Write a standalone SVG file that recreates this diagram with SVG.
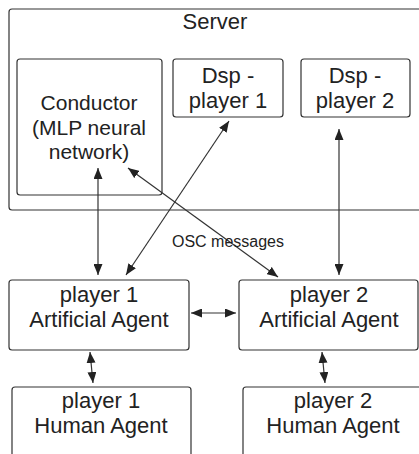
<svg xmlns="http://www.w3.org/2000/svg" width="419" height="454" viewBox="0 0 419 454">
<style>
.box{fill:#fff;stroke:#333;stroke-width:1.2}
.t{font-family:"Liberation Sans",Arial,sans-serif;font-size:22px;fill:#222;text-anchor:middle}
.tc{font-size:21px}
.s{font-family:"Liberation Sans",Arial,sans-serif;font-size:16px;fill:#222;text-anchor:middle}
.c{stroke:#333;stroke-width:1.2;fill:none;marker-start:url(#ah);marker-end:url(#ah)}
</style>
<defs>
<marker id="ah" viewBox="0 0 11 9" refX="11" refY="4.5" markerWidth="11" markerHeight="9" markerUnits="userSpaceOnUse" orient="auto-start-reverse">
<path d="M0,0 L11,4.5 L0,9 Z" fill="#222"/>
</marker>
</defs>
<rect width="419" height="454" fill="#fff"/>
<g id="server">
<rect class="box" x="9" y="9" width="420" height="201" rx="3"/>
<text class="t" x="215" y="29">Server</text>
</g>
<g id="conductor">
<rect class="box" x="17" y="59" width="145" height="136" rx="3"/>
<text class="t tc" x="89" y="110">Conductor</text>
<text class="t tc" x="89" y="134.5">(MLP neural</text>
<text class="t tc" x="89" y="159">network)</text>
</g>
<g id="dsp1">
<rect class="box" x="173" y="59" width="110" height="58" rx="3"/>
<text class="t" x="228" y="83">Dsp -</text>
<text class="t" x="228" y="108">player 1</text>
</g>
<g id="dsp2">
<rect class="box" x="301" y="59" width="109" height="58" rx="3"/>
<text class="t" x="355" y="83">Dsp -</text>
<text class="t" x="355" y="108">player 2</text>
</g>
<g id="aa1">
<rect class="box" x="9" y="280" width="180" height="70" rx="3"/>
<text class="t" x="99" y="302">player 1</text>
<text class="t" x="99" y="327">Artificial Agent</text>
</g>
<g id="aa2">
<rect class="box" x="239" y="280" width="179" height="70" rx="3"/>
<text class="t" x="329" y="302">player 2</text>
<text class="t" x="329" y="327">Artificial Agent</text>
</g>
<g id="ha1">
<rect class="box" x="12" y="387" width="179" height="80" rx="3"/>
<text class="t" x="101" y="408">player 1</text>
<text class="t" x="101" y="433">Human Agent</text>
</g>
<g id="ha2">
<rect class="box" x="243" y="387" width="180" height="80" rx="3"/>
<text class="t" x="333" y="408">player 2</text>
<text class="t" x="333" y="433">Human Agent</text>
</g>
<g id="connectors">
<line class="c" x1="98" y1="168" x2="98" y2="275"/>
<line class="c" x1="229" y1="121" x2="126" y2="275"/>
<line class="c" x1="339" y1="129" x2="339" y2="275"/>
<line class="c" x1="128" y1="168" x2="278" y2="277"/>
<line class="c" x1="191" y1="313" x2="236" y2="313"/>
<line class="c" x1="90" y1="352" x2="93" y2="383"/>
<line class="c" x1="322" y1="352" x2="325" y2="383"/>
<text class="s" x="228" y="247">OSC messages</text>
</g>
</svg>
